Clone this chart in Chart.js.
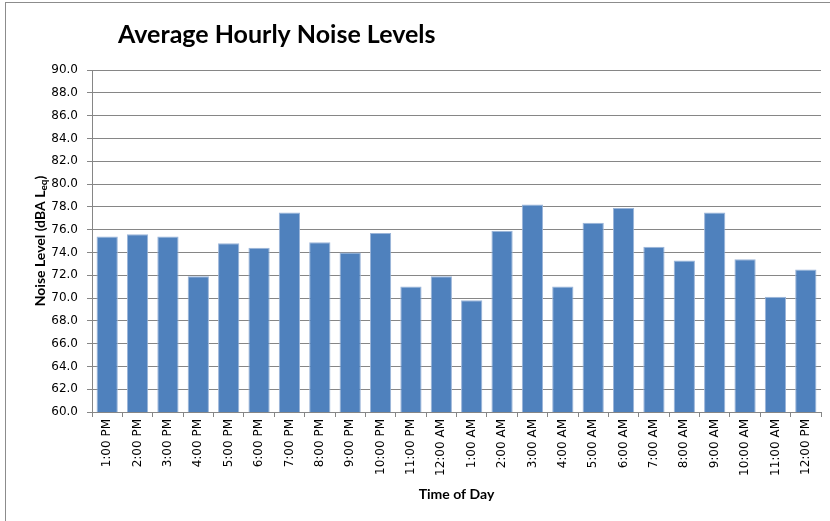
<!DOCTYPE html>
<html>
<head>
<meta charset="utf-8">
<script src="https://cdn.jsdelivr.net/npm/chart.js@4"></script>
<style>
  body { margin: 0; background: #fff; }
  #wrap { position: relative; width: 830px; height: 521px; }
</style>
</head>
<body>
<div id="wrap"><canvas id="noiseChart" width="830" height="521"></canvas></div>
<script>
// Chart data
const hours = ['1:00 PM', '2:00 PM', '3:00 PM', '4:00 PM', '5:00 PM', '6:00 PM', '7:00 PM', '8:00 PM',
    '9:00 PM', '10:00 PM', '11:00 PM', '12:00 AM', '1:00 AM', '2:00 AM', '3:00 AM', '4:00 AM',
    '5:00 AM', '6:00 AM', '7:00 AM', '8:00 AM', '9:00 AM', '10:00 AM', '11:00 AM', '12:00 PM'];
const noiseLevels = [75.4, 75.6, 75.4, 71.9, 74.8, 74.4, 77.5, 74.9,
    74.0, 75.7, 71.0, 71.9, 69.8, 75.9, 78.2, 71.0,
    76.6, 77.9, 74.5, 73.3, 77.5, 73.4, 70.1, 72.5];
const yMin = 60;
const yMax = 90;
const yStep = 2;

const chartTitle = 'Average Hourly Noise Levels';
const xTitle = 'Time of Day';

// Frame, title and the y axis title (with subscript) drawn on the canvas
const decorPlugin = {
    id: 'decor',
    beforeDraw(chart) {
        const ctx = chart.ctx;
        ctx.save();
        ctx.fillStyle = '#fff';
        ctx.fillRect(0, 0, chart.width, chart.height);
        ctx.strokeStyle = '#8c8c8c';
        ctx.lineWidth = 1;
        ctx.strokeRect(5.5, 2.5, chart.width + 10, chart.height + 10);
        ctx.restore();
    },
    afterDraw(chart) {
        const ctx = chart.ctx;
        ctx.save();
        ctx.fillStyle = '#000';
        ctx.font = 'bold 25px Lato';
        ctx.textBaseline = 'middle';
        ctx.textAlign = 'left';
        ctx.fillText(chartTitle, 118, 35);

        // y axis title
        const area = chart.chartArea;
        const main = 'Noise Level (dBA L';
        const sub = 'eq';
        const tail = ')';
        ctx.font = 'bold 14px Lato';
        const wMain = ctx.measureText(main).width;
        const wTail = ctx.measureText(tail).width;
        ctx.font = 'bold 10px Lato';
        const wSub = ctx.measureText(sub).width;
        const total = wMain + wSub + wTail;
        ctx.translate(40, (area.top + area.bottom) / 2);
        ctx.rotate(-Math.PI / 2);
        let x = -total / 2;
        ctx.font = 'bold 14px Lato';
        ctx.fillText(main, x, 0);
        x += wMain;
        ctx.font = 'bold 10px Lato';
        ctx.fillText(sub, x, 4);
        x += wSub;
        ctx.font = 'bold 14px Lato';
        ctx.fillText(tail, x, 0);
        ctx.restore();
    }
};

const ctx = document.getElementById('noiseChart').getContext('2d');
const noiseChart = new Chart(ctx, {
    type: 'bar',
    data: {
        labels: hours,
        datasets: [{
            label: 'Noise Level',
            data: noiseLevels,
            backgroundColor: '#4f81bd',
            borderColor: '#9bb5d9',
            borderWidth: { top: 1, left: 1, right: 1, bottom: 0 },
            barPercentage: 0.7,
            categoryPercentage: 1.0
        }]
    },
    options: {
        responsive: false,
        animation: false,
        layout: {
            padding: { left: 0, right: 9, top: 70, bottom: 0 }
        },
        plugins: {
            legend: { display: false },
            title: { display: false },
            tooltip: { enabled: false }
        },
        scales: {
            x: {
                grid: {
                    offset: true,
                    drawOnChartArea: false,
                    drawTicks: true,
                    tickLength: 5,
                    color: '#868686'
                },
                border: { color: '#868686' },
                ticks: {
                    autoSkip: false,
                    maxRotation: 90,
                    minRotation: 90,
                    padding: 2,
                    color: '#000',
                    font: { family: 'DejaVu Sans', size: 12 }
                },
                title: {
                    display: true,
                    text: xTitle,
                    color: '#000',
                    font: { family: 'Lato', size: 14, weight: 'bold' },
                    padding: { top: 0, bottom: 18 }
                },
                afterFit(scale) {
                    scale.height = 109;
                }
            },
            y: {
                min: yMin,
                max: yMax,
                grid: {
                    color: '#868686',
                    tickLength: 5
                },
                border: { color: '#868686' },
                ticks: {
                    stepSize: yStep,
                    padding: 9,
                    color: '#000',
                    font: { family: 'DejaVu Sans', size: 12 },
                    callback: value => value.toFixed(1)
                },
                afterFit(scale) {
                    scale.width = 92;
                }
            }
        }
    },
    plugins: [decorPlugin]
});
</script>
</body>
</html>
